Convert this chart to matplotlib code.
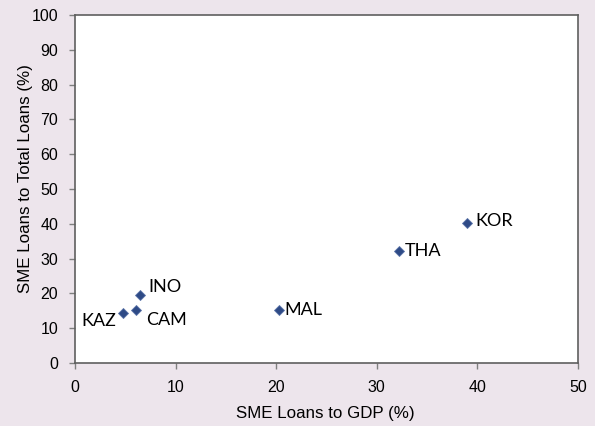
import matplotlib.pyplot as plt

# SME loans data by country
countries = ['KAZ', 'CAM', 'INO', 'MAL', 'THA', 'KOR']
sme_gdp = [4.8, 6.1, 6.5, 20.3, 32.2, 39.0]
sme_total = [14.5, 15.1, 19.4, 15.3, 32.1, 40.3]

# label offsets in points (dx, dy, ha)
offsets = {
    'KAZ': (-5, -6, 'right'),
    'CAM': (7, -7, 'left'),
    'INO': (6, 6, 'left'),
    'MAL': (4, 0, 'left'),
    'THA': (4, 0, 'left'),
    'KOR': (6, 1, 'left'),
}

bg = '#EDE5EC'
fig = plt.figure(figsize=(5.95, 4.26), dpi=100, facecolor=bg)
ax = fig.add_axes([75 / 595, 1 - 363 / 426, 503 / 595, 348 / 426])
ax.set_facecolor('white')

ax.plot(sme_gdp, sme_total, 'D', color='#2E4A86', markeredgecolor='#5A73A8',
        markeredgewidth=0.6, markersize=5.5, linestyle='none')

for name, x, y in zip(countries, sme_gdp, sme_total):
    dx, dy, ha = offsets[name]
    ax.annotate(name, (x, y), xytext=(dx, dy), textcoords='offset points',
                ha=ha, va='center', fontsize=13, family='Lato', color='black')

ax.set_xlim(0, 50)
ax.set_ylim(0, 100)
ax.set_xticks(range(0, 51, 10))
ax.set_yticks(range(0, 101, 10))
ax.tick_params(direction='out', length=4, width=1, color='#7f7f7f',
               labelsize=11.5, pad=8)
for lab in ax.get_xticklabels() + ax.get_yticklabels():
    lab.set_family('Liberation Sans')
for s in ax.spines.values():
    s.set_color('#5f5f5f')
    s.set_linewidth(1.2)

ax.set_xlabel('SME Loans to GDP (%)', fontsize=12.2, family='Liberation Sans', va='center')
ax.set_ylabel('SME Loans to Total Loans (%)', fontsize=12.2, family='Liberation Sans', va='center')
ax.xaxis.set_label_coords(0.498, -0.144)
ax.yaxis.set_label_coords(-0.099, 0.53)

plt.savefig('out.png', dpi=100, facecolor=bg)
